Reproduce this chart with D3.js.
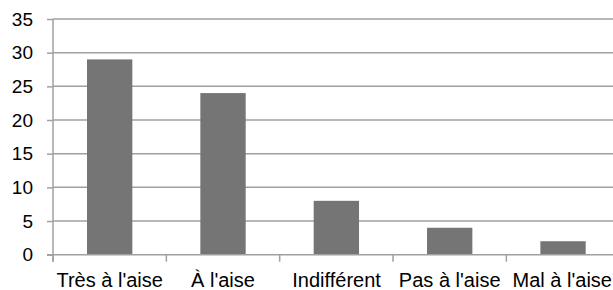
<!DOCTYPE html>
<html><head><meta charset="utf-8">
<script src="https://cdn.jsdelivr.net/npm/d3@7"></script>
<style>body{margin:0;background:#fff;} svg{display:block;} text{font-family:"Liberation Sans",Arial,sans-serif;}</style>
</head><body>
<svg id="c" width="613" height="290"></svg>
<script>
const categories = ["Très à l'aise", "À l'aise", "Indifférent", "Pas à l'aise", "Mal à l'aise"];
const values = [29, 24, 8, 4, 2];
const yTicks = [0, 5, 10, 15, 20, 25, 30, 35];

(function () {
const svg = d3.select("#c");
const W = 613;
const mLeft = 53, mRight = 619.7, mTop = 19, mBottom = 254.7;
const x = d3.scaleBand().domain(categories).range([mLeft, mRight]).paddingInner(0.6).paddingOuter(0.3);
const y = d3.scaleLinear().domain([0, 35]).range([mBottom, mTop]);
const grid = "#a0a0a0";

// gridlines
svg.append("g").selectAll("line").data(yTicks.filter(d => d > 0)).join("line")
  .attr("x1", mLeft).attr("x2", W).attr("y1", d => y(d)).attr("y2", d => y(d))
  .attr("stroke", grid).attr("stroke-width", 1.5);

// bars
svg.append("g").selectAll("rect").data(values).join("rect")
  .attr("x", (d, i) => x(categories[i])).attr("width", x.bandwidth())
  .attr("y", d => y(d)).attr("height", d => mBottom - y(d))
  .attr("fill", "#757575");

// y axis
const yAxis = d3.axisLeft(y).tickValues(yTicks).tickSize(6).tickPadding(14);
const gy = svg.append("g").attr("transform", `translate(${mLeft},0)`).call(yAxis);
gy.select(".domain").attr("stroke", grid).attr("stroke-width", 1.5).attr("d", `M0,${mTop}V${mBottom + 7}`);
gy.selectAll(".tick line").attr("stroke", grid).attr("stroke-width", 1.5);
gy.selectAll(".tick text").attr("font-size", 19).attr("fill", "#000").attr("font-family", "Liberation Sans, Arial, sans-serif");

// x axis line
const xBand = d3.scaleBand().domain(categories).range([mLeft, mRight]);
svg.append("line").attr("x1", mLeft - 6).attr("x2", W).attr("y1", mBottom).attr("y2", mBottom)
  .attr("stroke", grid).attr("stroke-width", 1.5);
// category boundary ticks
svg.append("g").selectAll("line").data(d3.range(categories.length + 1)).join("line")
  .attr("x1", i => mLeft + i * xBand.step()).attr("x2", i => mLeft + i * xBand.step())
  .attr("y1", mBottom).attr("y2", mBottom + 7)
  .attr("stroke", grid).attr("stroke-width", 1.5);

// x labels (centered, shifted to fit inside the canvas like the original)
const labels = svg.append("g").selectAll("text").data(categories).join("text")
  .attr("x", d => xBand(d) + xBand.bandwidth() / 2).attr("y", 287)
  .attr("text-anchor", "middle").attr("font-size", 20).attr("fill", "#000")
  .text(d => d);
const nodes = labels.nodes();
let limit = W - 1;
for (let i = nodes.length - 1; i >= 0; i--) {
  const bb = nodes[i].getBBox();
  let cx = bb.x + bb.width / 2;
  if (bb.x + bb.width > limit) cx -= (bb.x + bb.width - limit);
  d3.select(nodes[i]).attr("x", cx);
  limit = cx - bb.width / 2 - 8;
}
})();
</script>
</body></html>
